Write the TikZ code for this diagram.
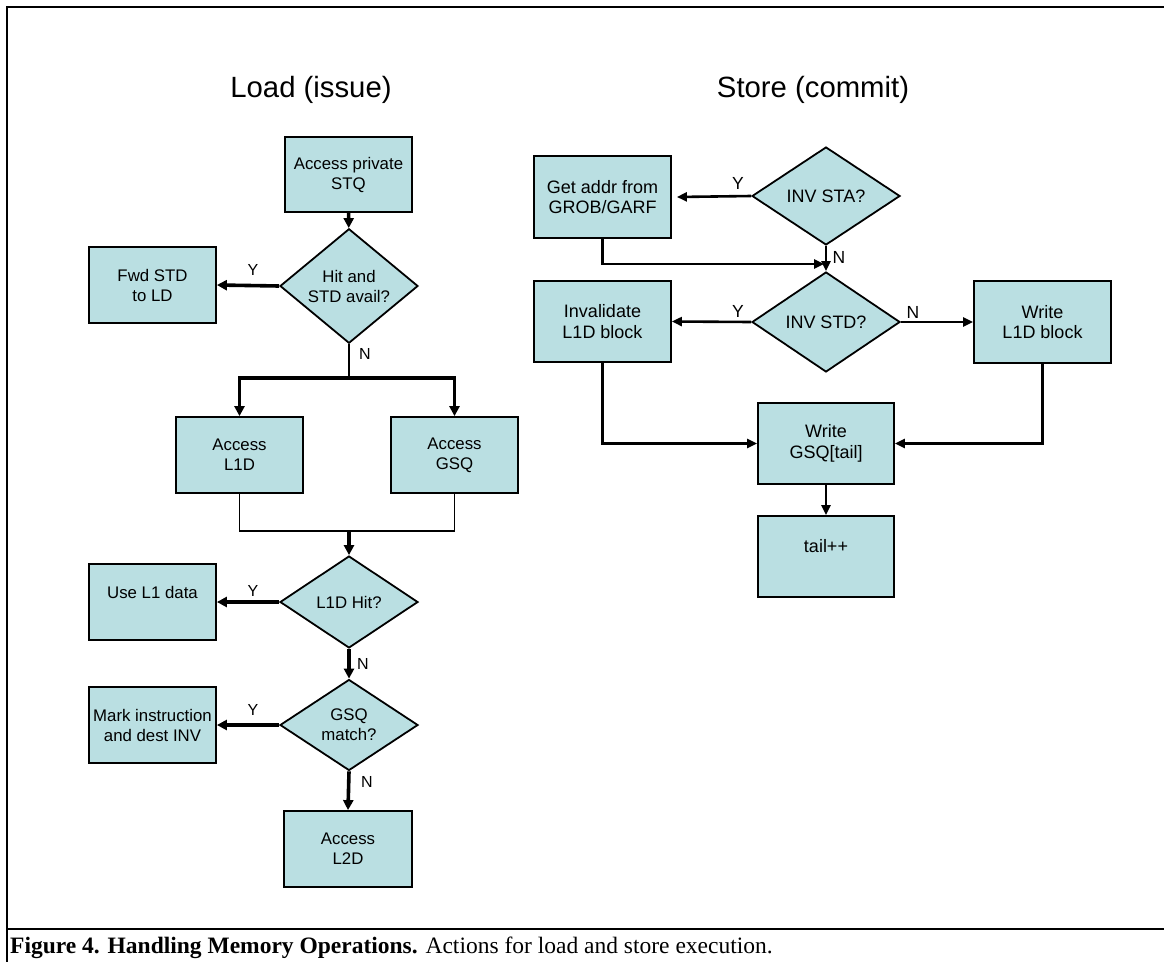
\documentclass[tikz,border=0pt]{standalone}
\usepackage{fontspec}
\setmainfont{Liberation Sans}
\newfontfamily\capfont{Liberation Serif}
\usetikzlibrary{shapes.geometric,arrows.meta}
\definecolor{boxfill}{RGB}{186,223,226}

\begin{document}
\begin{tikzpicture}[x=1pt,y=-1pt,
  proc/.style={draw=black,fill=boxfill,line width=1.8pt,rectangle,inner sep=0pt,align=center},
  dec/.style={draw=black,fill=boxfill,line width=1.8pt,diamond,inner sep=0pt,align=center},
  lsz/.style={font=\fontsize{16.8}{20}\selectfont},
  ssz/.style={font=\fontsize{18}{20.5}\selectfont},
  lbox/.style={proc,lsz,minimum width=127pt,minimum height=76pt},
  sbox/.style={proc,ssz,minimum width=137pt,minimum height=82pt},
  tipL/.tip={Triangle[length=10pt,width=10pt]},
  tipS/.tip={Triangle[length=10pt,width=9pt]},
  heavy/.style={line width=3.6pt,-tipL},
  heavyline/.style={line width=3.6pt},
  thinline/.style={line width=1.8pt},
  sarrow/.style={line width=2.6pt,-tipS},
  llbl/.style={font=\fontsize{16}{18}\selectfont},
  slbl/.style={font=\fontsize{17.5}{20}\selectfont},
  ttl/.style={font=\fontsize{29.3}{34}\selectfont,anchor=base}
]
\useasboundingbox (0,0) rectangle (1164,961);

% frame and caption rule
\draw[line width=2.4pt] (1166,7) -- (7,7) -- (7,965);
\draw[line width=2.6pt] (7,929) -- (1166,929);
\node[anchor=base west,inner sep=0pt,font=\capfont\fontsize{23.5}{26}\selectfont] (cap) at (10,953)
  {\textbf{Figure 4. Handling Memory Operations.} Actions for load and store execution.};

% titles
\node[ttl] (tload) at (311,97) {Load (issue)};
\node[ttl] (tstore) at (813,97) {Store (commit)};

% ---- load flow ----
\node[lbox,minimum width=127pt,minimum height=75pt] (stq) at (348.5,174.5) {Access private\\STQ};
\node[dec,lsz,minimum width=138pt,minimum height=92pt] (hit) at (349,286) {Hit and\\STD avail?};
\node[lbox] (fwd) at (152.5,285) {Fwd STD\\to LD};
\node[lbox] (l1d) at (239.5,455) {Access\\L1D};
\node[lbox] (gsq) at (454.5,455) {Access\\GSQ};
\node[dec,lsz,minimum width=138pt,minimum height=92pt] (l1hit) at (349,602) {L1D Hit?};
\node[lbox] (use) at (152.5,602) {Use L1 data\\\mbox{}};
\node[dec,lsz,minimum width=138pt,minimum height=91pt] (gsqm) at (349,725) {GSQ\\match?};
\node[lbox] (mark) at (152.5,725) {Mark instruction\\and dest INV};
\node[lbox,minimum width=128pt] (l2d) at (348,849) {Access\\L2D};

\coordinate (split) at (349,378);
\coordinate (merge) at (349,531);

\draw[heavy] (stq) -- (hit);
\draw[heavy] (hit.west) -- (fwd.east);
\draw[thinline] (hit.south) -- (split);
\draw[heavyline,tipL-tipL] (l1d.north) |- (split) -| (gsq.north);
\draw[thinline] (l1d.south) -- (l1d.south |- merge) -- (gsq.south |- merge) -- (gsq.south);
\draw[heavy] (merge) -- (l1hit.north);
\draw[heavy] (l1hit.west) -- (use.east);
\draw[heavy] (l1hit.south) -- (gsqm.north);
\draw[heavy] (gsqm.west) -- (mark.east);
\draw[heavy] (gsqm.south) -- (l2d.north);

\node[llbl] (y1) at (253,270) {Y};
\node[llbl] (n1) at (365,354) {N};
\node[llbl] (y2) at (253,591) {Y};
\node[llbl] (n2) at (363,664) {N};
\node[llbl] (y3) at (253,710) {Y};
\node[llbl] (n3) at (367,782) {N};

% ---- store flow ----
\node[dec,ssz,minimum width=148pt,minimum height=98pt] (sta) at (826,196) {INV STA?};
\node[sbox] (get) at (602.5,197) {Get addr from\\GROB/GARF};
\node[dec,ssz,minimum width=148pt,minimum height=100pt] (std) at (826,322) {INV STD?};
\node[sbox,minimum height=81pt] (inv) at (602.5,321.5) {Invalidate\\L1D block};
\node[sbox] (wl1) at (1042.5,322) {Write\\L1D block};
\node[sbox,minimum width=136pt,minimum height=81pt] (wgsq) at (826,443.5) {Write\\GSQ[tail]};
\node[sbox,minimum width=136pt,minimum height=81pt] (tail) at (826,556.5) {tail++\\\mbox{}};

\coordinate (join) at (824,264);

\draw[sarrow] (sta.west) -- ([xshift=5pt]get.east);
\draw[sarrow] (get.south) |- (join);
\draw[sarrow] (sta.south) -- (std.north);
\draw[sarrow] (std.west) -- (inv.east);
\draw[sarrow] (std.east) -- (wl1.west);
\draw[sarrow] (inv.south) |- (wgsq.west);
\draw[sarrow] (wl1.south) |- (wgsq.east);
\draw[sarrow] (wgsq) -- (tail);

\node[slbl] (sy1) at (738,183) {Y};
\node[slbl] (sn1) at (839,257) {N};
\node[slbl] (sy2) at (738,311) {Y};
\node[slbl] (sn2) at (913,312) {N};
\end{tikzpicture}
\end{document}
